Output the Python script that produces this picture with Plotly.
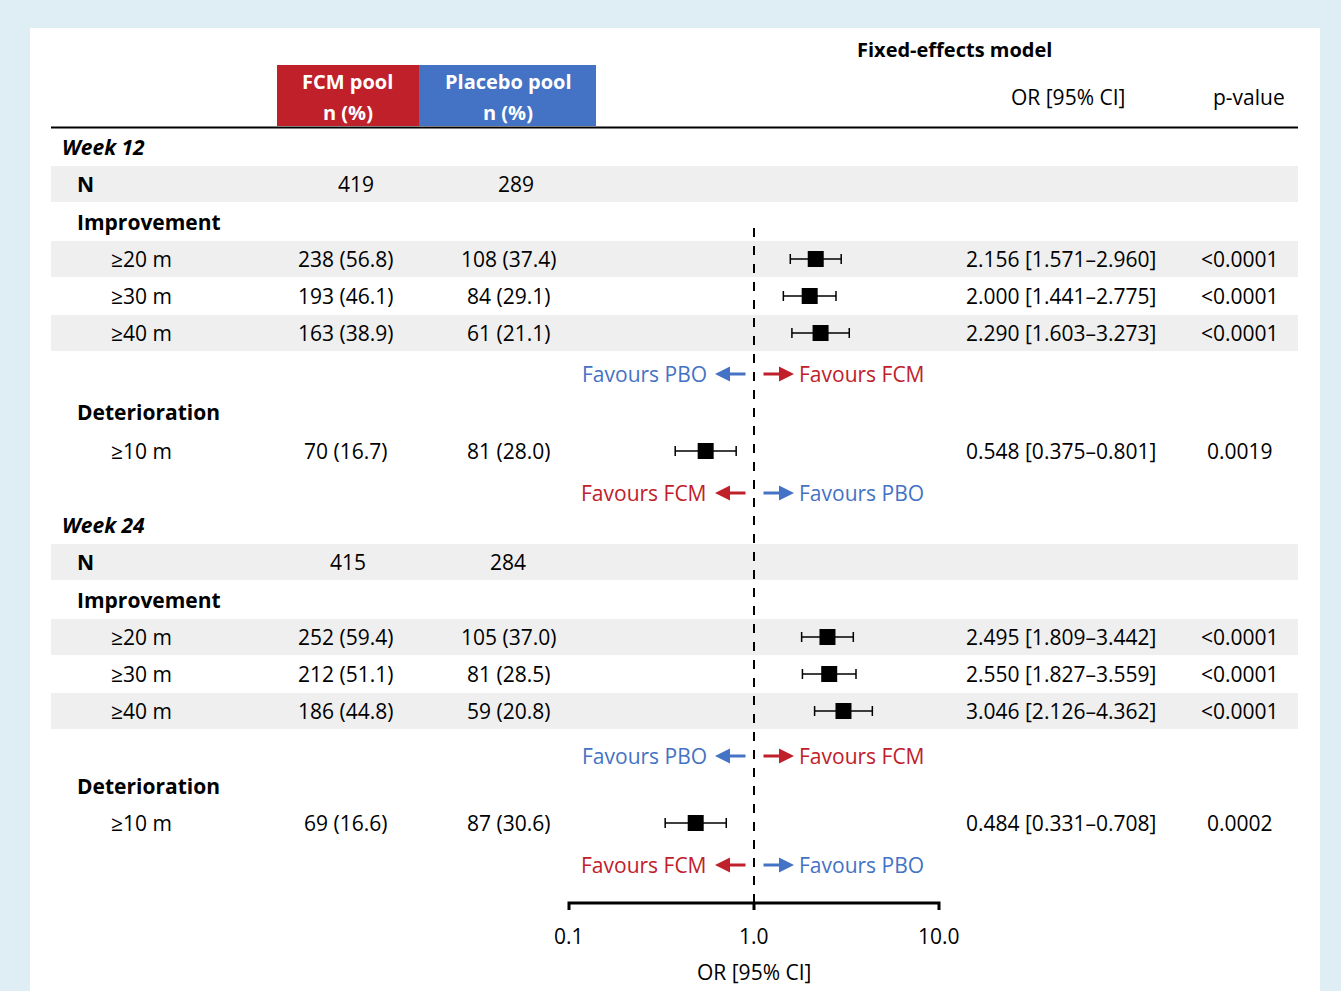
import numpy as np
import plotly.graph_objects as go

W, H = 1341, 991
FONT = "Open Sans"
FS = 21
RED = "#c0202a"
BLUE = "#4472c4"

# rows of the table: label, FCM n(%), placebo n(%), OR, lo, hi, OR text, p-value
row_labels = ["≥20 m", "≥30 m", "≥40 m", "≥10 m", "≥20 m", "≥30 m", "≥40 m", "≥10 m"]
fcm_vals = ["238 (56.8)", "193 (46.1)", "163 (38.9)", "70 (16.7)",
            "252 (59.4)", "212 (51.1)", "186 (44.8)", "69 (16.6)"]
pbo_vals = ["108 (37.4)", "84 (29.1)", "61 (21.1)", "81 (28.0)",
            "105 (37.0)", "81 (28.5)", "59 (20.8)", "87 (30.6)"]
odds = [2.156, 2.000, 2.290, 0.548, 2.495, 2.550, 3.046, 0.484]
ci_lo = [1.571, 1.441, 1.603, 0.375, 1.809, 1.827, 2.126, 0.331]
ci_hi = [2.960, 2.775, 3.273, 0.801, 3.442, 3.559, 4.362, 0.708]
p_vals = ["<0.0001", "<0.0001", "<0.0001", "0.0019",
          "<0.0001", "<0.0001", "<0.0001", "0.0002"]
n_fcm = ["419", "415"]
n_pbo = ["289", "284"]
axis_ticks = [0.1, 1.0, 10.0]

# vertical pixel positions of rows
row_y = [259, 296, 333, 451, 637, 674, 711, 823]
n_y = [184, 562]
week_y = [147, 525]
week_txt = ["Week 12", "Week 24"]
impr_y = [222, 600]
det_y = [412, 786]
fav_imp_y = [374, 756]
fav_det_y = [493, 865]

# x mapping: 0.1 at px 569, 10 at px 939
ppd = 185.0
x0_log = -1 - 569 / ppd
x1_log = -1 + (W - 569) / ppd

fig = go.Figure()

def px(x):
    return x / W

anns = []
shapes = []

def txt(x, y, s, anchor="center", size=FS, color="black", bold=False, italic=False):
    if bold:
        s = "<b>" + s + "</b>"
    if italic:
        s = "<i>" + s + "</i>"
    anns.append(dict(x=px(x), y=y, xref="paper", yref="y", text=s, showarrow=False,
                     xanchor=anchor, yanchor="middle",
                     font=dict(family=FONT, size=size, color=color)))

# white panel
shapes.append(dict(type="rect", xref="paper", yref="y", x0=px(30), x1=px(1320), y0=28, y1=H + 5,
                   fillcolor="white", line_width=0, layer="below"))
# gray bands
for yc in n_y + [row_y[0], row_y[2], row_y[4], row_y[6]]:
    shapes.append(dict(type="rect", xref="paper", yref="y", x0=px(51), x1=px(1298),
                       y0=yc - 18, y1=yc + 18, fillcolor="#efefef", line_width=0, layer="below"))
# header boxes
shapes.append(dict(type="rect", xref="paper", yref="y", x0=px(277), x1=px(419), y0=65, y1=126,
                   fillcolor=RED, line_width=0, layer="below"))
shapes.append(dict(type="rect", xref="paper", yref="y", x0=px(419), x1=px(596), y0=65, y1=126,
                   fillcolor=BLUE, line_width=0, layer="below"))
shapes.append(dict(type="line", xref="paper", yref="y", x0=px(51), x1=px(1298), y0=127.5, y1=127.5,
                   line=dict(color="black", width=2)))

txt(348, 81, "FCM pool", color="white", bold=True, size=20)
txt(348, 112, "n (%)", color="white", bold=True, size=20)
txt(508, 81, "Placebo pool", color="white", bold=True, size=20)
txt(508, 112, "n (%)", color="white", bold=True, size=20)
txt(955, 49, "Fixed-effects model", bold=True, size=20)
txt(1068, 97, "OR [95% CI]")
txt(1249, 97, "p-value")

for i in range(2):
    txt(60, week_y[i], week_txt[i], anchor="left", bold=True, italic=True)
    txt(75, n_y[i], "N", anchor="left", bold=True)
    txt(356 - 8 * i, n_y[i], n_fcm[i])
    txt(516 - 8 * i, n_y[i], n_pbo[i])
    txt(75, impr_y[i], "Improvement", anchor="left", bold=True)
    txt(75, det_y[i], "Deterioration", anchor="left", bold=True)

for lab, f, p, o, lo, hi, pv, y in zip(row_labels, fcm_vals, pbo_vals, odds, ci_lo, ci_hi, p_vals, row_y):
    txt(109, y, lab, anchor="left")
    txt(346, y, f)
    txt(508, y, p)
    txt(1158, y, f"{o:.3f} [{lo:.3f}–{hi:.3f}]", anchor="right")
    txt(1240, y, pv)

# favours arrows
def favours(y, left_txt, left_col, right_txt, right_col):
    txt(709, y, left_txt, anchor="right", color=left_col)
    txt(797, y, right_txt, anchor="left", color=right_col)
    anns.append(dict(x=px(715), y=y, ax=32, ay=0, xref="paper", yref="y",
                     text="", showarrow=True, arrowhead=2, arrowsize=1, arrowwidth=3, arrowcolor=left_col))
    anns.append(dict(x=px(794), y=y, ax=-32, ay=0, xref="paper", yref="y",
                     text="", showarrow=True, arrowhead=2, arrowsize=1, arrowwidth=3, arrowcolor=right_col))

for y in fav_imp_y:
    favours(y, "Favours PBO", BLUE, "Favours FCM", RED)
for y in fav_det_y:
    favours(y, "Favours FCM", RED, "Favours PBO", BLUE)

# reference line at OR = 1
fig.add_trace(go.Scatter(x=[1, 1], y=[228, 903], mode="lines",
                         line=dict(color="black", width=2, dash="dash"), hoverinfo="skip"))
# forest plot points
odds_a = np.array(odds)
fig.add_trace(go.Scatter(
    x=odds, y=row_y, mode="markers",
    marker=dict(symbol="square", size=16, color="black"),
    error_x=dict(type="data", symmetric=False,
                 array=np.array(ci_hi) - odds_a, arrayminus=odds_a - np.array(ci_lo),
                 color="black", thickness=1.5, width=5),
    hoverinfo="skip"))
# OR axis
fig.add_trace(go.Scatter(x=[0.1, 0.1, 10, 10], y=[910, 903, 903, 910], mode="lines",
                         line=dict(color="black", width=3), hoverinfo="skip"))
fig.add_trace(go.Scatter(x=[1, 1], y=[903, 910], mode="lines",
                         line=dict(color="black", width=3), hoverinfo="skip"))
for t in axis_ticks:
    anns.append(dict(x=np.log10(t), y=936, xref="x", yref="y", text=f"{t:.1f}", showarrow=False,
                     font=dict(family=FONT, size=FS, color="black")))
anns.append(dict(x=0, y=972, xref="x", yref="y", text="OR [95% CI]", showarrow=False,
                 font=dict(family=FONT, size=FS, color="black")))

fig.update_layout(
    width=W, height=H, margin=dict(l=0, r=0, t=0, b=0),
    paper_bgcolor="#deeef4", plot_bgcolor="rgba(0,0,0,0)",
    showlegend=False, annotations=anns, shapes=shapes,
    xaxis=dict(type="log", range=[x0_log, x1_log], visible=False, fixedrange=True),
    yaxis=dict(range=[H, 0], visible=False, fixedrange=True),
)
fig.write_html("out.html", config={"displayModeBar": False},
               post_script="document.body.style.margin='0';document.body.style.overflow='hidden';")
